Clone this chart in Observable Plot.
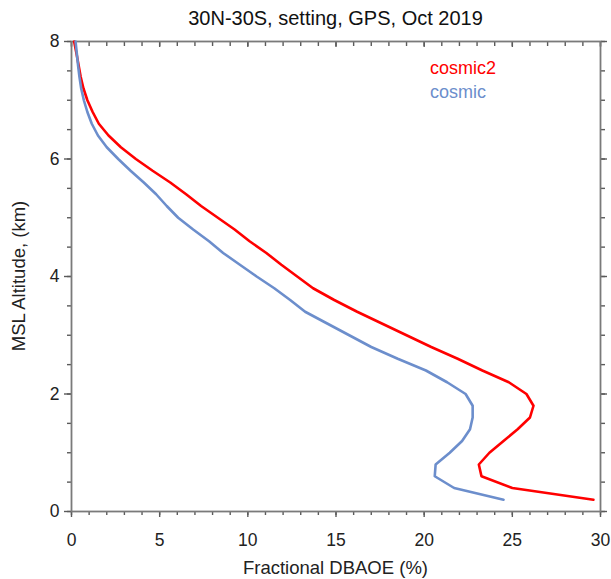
<!DOCTYPE html>
<html>
<head>
<meta charset="utf-8">
<script src="https://cdn.jsdelivr.net/npm/d3@7"></script>
<script src="https://cdn.jsdelivr.net/npm/@observablehq/plot@0.6"></script>
<style>
  body { margin: 0; background: #fff; }
  svg { font-family: "Liberation Sans", Arial, sans-serif; }
</style>
</head>
<body>
<div id="chart"></div>
<script>
const altitude = [0.2,0.4,0.6,0.8,1.0,1.2,1.4,1.6,1.8,2.0,2.2,2.4,2.6,2.8,3.0,3.2,3.4,3.6,3.8,4.0,4.2,4.4,4.6,4.8,5.0,5.2,5.4,5.6,5.8,6.0,6.2,6.4,6.6,6.8,7.0,7.2,7.4,7.6,7.8,8.0];
const cosmic2 = [29.6,25.0,23.25,23.1,23.7,24.5,25.3,26.0,26.2,25.8,24.8,23.3,21.9,20.4,19.0,17.6,16.2,14.9,13.7,12.8,11.9,11.05,10.1,9.25,8.3,7.35,6.5,5.6,4.6,3.65,2.8,2.1,1.55,1.2,0.9,0.68,0.52,0.4,0.28,0.15];
const cosmic = [24.5,21.7,20.6,20.65,21.45,22.15,22.6,22.75,22.75,22.35,21.3,20.1,18.5,17.0,15.75,14.5,13.25,12.4,11.5,10.5,9.55,8.6,7.8,6.9,6.05,5.4,4.8,4.1,3.35,2.65,2.0,1.5,1.15,0.9,0.7,0.55,0.45,0.37,0.3,0.23];
const seriesNames = ["cosmic2", "cosmic"];
const seriesColors = ["#ff0000", "#6c8ecc"];
const xMajor = [0,5,10,15,20,25,30];
const xMinor = d3.range(0, 31, 1);
const yMajor = [0,2,4,6,8];
const yMinor = d3.range(0, 8.01, 0.5);
const title = "30N-30S, setting, GPS, Oct 2019";
const xLabel = "Fractional DBAOE (%)";
const yLabel = "MSL Altitude, (km)";

const rows = [];
seriesNames.forEach((name, i) => {
  const vals = i === 0 ? cosmic2 : cosmic;
  altitude.forEach((a, j) => rows.push({series: name, alt: a, value: vals[j]}));
});

const W = 611, H = 579, mt = 41, mb = 68, ml = 71, mr = 11;
const fh = H - mt - mb;
const fw = W - ml - mr;
const axisColor = "#7a7a7a";
const tickColor = "#5a5a5a";

const tickOpts = {strokeWidth: 1.4, stroke: tickColor, strokeOpacity: 1, text: null, label: null};

const chart = Plot.plot({
  width: W, height: H,
  marginTop: mt, marginBottom: mb, marginLeft: ml, marginRight: mr,
  x: {domain: [0, 30], label: null},
  y: {domain: [0, 8], label: null},
  style: {fontSize: "17px", fontFamily: "Liberation Sans, Arial, sans-serif", color: "#222"},
  marks: [
    // bottom ticks (outward)
    Plot.axisX({anchor: "bottom", ticks: xMajor, tickSize: 0, tickPadding: 22, fontSize: 17.5, fill: "#222", label: null}),
    Plot.axisX({anchor: "bottom", ticks: xMinor, tickSize: 4, ...tickOpts}),
    Plot.axisX({anchor: "bottom", ticks: xMajor, tickSize: 6, ...tickOpts}),
    // top ticks (inward)
    Plot.axisX({anchor: "top", ticks: xMinor, tickSize: -4, ...tickOpts}),
    Plot.axisX({anchor: "top", ticks: xMajor, tickSize: -5, ...tickOpts}),
    // left ticks (outward)
    Plot.axisY({anchor: "left", ticks: yMajor, tickSize: 0, tickPadding: 12, fontSize: 17.5, fill: "#222", label: null}),
    Plot.axisY({anchor: "left", ticks: yMinor, tickSize: 4, ...tickOpts}),
    Plot.axisY({anchor: "left", ticks: yMajor, tickSize: 7, ...tickOpts}),
    // right ticks (outward)
    Plot.axisY({anchor: "right", ticks: yMinor, tickSize: 4, ...tickOpts}),
    Plot.axisY({anchor: "right", ticks: yMajor, tickSize: 6, ...tickOpts}),
    Plot.frame({stroke: axisColor, strokeWidth: 1.8}),
    // data
    Plot.line(rows, {x: "value", y: "alt", z: "series", stroke: d => seriesColors[seriesNames.indexOf(d.series)], strokeWidth: 2.6, curve: "linear", sort: {channel: "y"}})
  ]
});

// title, axis labels and legend as real text
const svg = d3.select(chart);
const legend = svg.append("g").attr("font-size", 18).attr("text-anchor", "start");
seriesNames.forEach((n, i) => {
  legend.append("text").attr("x", 430).attr("y", 74 + i * 24).attr("fill", seriesColors[i]).text(n);
});
svg.append("text").attr("x", ml + fw / 2).attr("y", 25).attr("text-anchor", "middle")
  .attr("font-size", 20).attr("fill", "#111").text(title);
svg.append("text").attr("x", ml + fw / 2).attr("y", 574).attr("text-anchor", "middle")
  .attr("font-size", 18.5).attr("fill", "#222").text(xLabel);
svg.append("text").attr("transform", `translate(25,${mt + fh / 2}) rotate(-90)`).attr("text-anchor", "middle")
  .attr("font-size", 18.5).attr("fill", "#222").text(yLabel);

document.getElementById("chart").appendChild(chart);
</script>
</body>
</html>
